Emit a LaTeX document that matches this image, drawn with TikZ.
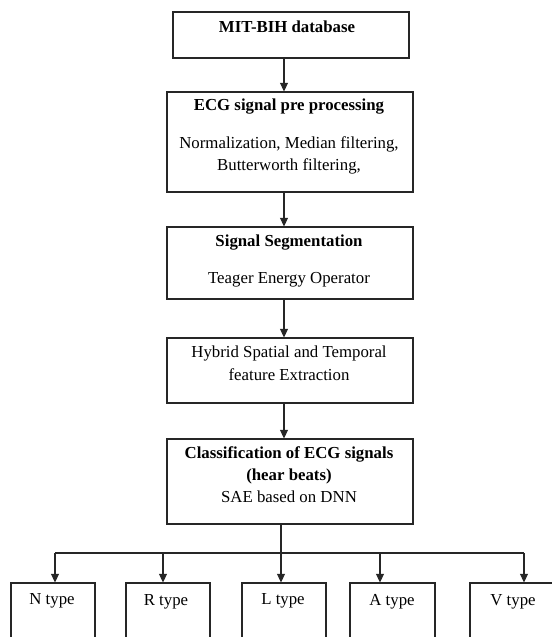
\documentclass[tikz,border=0pt]{standalone}
\usepackage{fontspec}
\setmainfont{Liberation Serif}
\usetikzlibrary{arrows.meta}
\begin{document}
\begin{tikzpicture}[x=0.75pt,y=-0.75pt,
  box/.style={draw=black!85, line width=0.8pt, inner sep=0pt},
  wide/.style={box, minimum width=184.5pt},
  leaf/.style={box, minimum width=63pt, minimum height=57.75pt},
  lbl/.style={inner sep=0pt, font=\fontsize{12.6}{14}\selectfont, align=center},
  ttl/.style={lbl, font=\fontsize{12.6}{14}\selectfont\bfseries},
  conn/.style={draw=black!85, line width=0.8pt},
  arr/.style={conn, -{Triangle[length=6.5pt,width=6pt]}}]
\useasboundingbox (0,0) rectangle (552,637);
\clip (0,0) rectangle (552,637);
% main boxes
\node[box, minimum width=177pt, minimum height=34.5pt] (b1) at (291,35) {};
\node[wide, minimum height=75pt] (b2) at (290,142) {};
\node[wide, minimum height=54pt] (b3) at (290,263) {};
\node[wide, minimum height=48.75pt] (b4) at (290,370.5) {};
\node[wide, minimum height=63.75pt] (b5) at (290,481.5) {};
% texts
\node[ttl] (t1) at (287,27) {MIT-BIH database};
\node[ttl] (t2) at (289,107) {ECG signal pre processing};
\node[lbl] (t2a) at (289,144) {Normalization, Median filtering,};
\node[lbl] (t2b) at (289,166) {Butterworth filtering,};
\node[ttl] (t3) at (289,243) {Signal Segmentation};
\node[lbl] (t3a) at (289,280) {Teager Energy Operator};
\node[lbl] (t4a) at (289,353) {Hybrid Spatial and Temporal};
\node[lbl] (t4b) at (289,375) {feature Extraction};
\node[ttl] (t5) at (289,454) {Classification of ECG signals};
\node[ttl] (t5a) at (289,476) {(hear beats)};
\node[lbl] (t5b) at (289,497) {SAE based on DNN};
% leaf boxes
\node[leaf] (n) at (53,621.5) {};
\node[leaf] (r) at (168,621.5) {};
\node[leaf] (l) at (284,621.5) {};
\node[leaf, minimum width=63.75pt] (a) at (392.5,621.5) {};
\node[leaf] (v) at (512,621.5) {};
\node[lbl] (tn) at (52,601) {N type};
\node[lbl] (tr) at (166,602) {R type};
\node[lbl] (tl) at (283,601) {L type};
\node[lbl] (ta) at (392,602) {A type};
\node[lbl] (tv) at (513,602) {V type};
% connectors
\coordinate (ax) at (284,0);
\draw[arr] (b1.south -| ax) -- (b2.north -| ax);
\draw[arr] (b2.south -| ax) -- (b3.north -| ax);
\draw[arr] (b3.south -| ax) -- (b4.north -| ax);
\draw[arr] (b4.south -| ax) -- (b5.north -| ax);
\coordinate (bx) at (281,0);
\coordinate (jy) at (0,553);
\coordinate (nx) at (55,0);
\coordinate (rx) at (163,0);
\coordinate (axa) at (380,0);
\coordinate (vx) at (524,0);
\draw[conn] (b5.south -| bx) -- (bx |- jy);
\draw[conn] (nx |- jy) -- (vx |- jy);
\draw[arr] (nx |- jy) -- (n.north -| nx);
\draw[arr] (rx |- jy) -- (r.north -| rx);
\draw[arr] (bx |- jy) -- (l.north -| bx);
\draw[arr] (axa |- jy) -- (a.north -| axa);
\draw[arr] (vx |- jy) -- (v.north -| vx);
\end{tikzpicture}
\end{document}
